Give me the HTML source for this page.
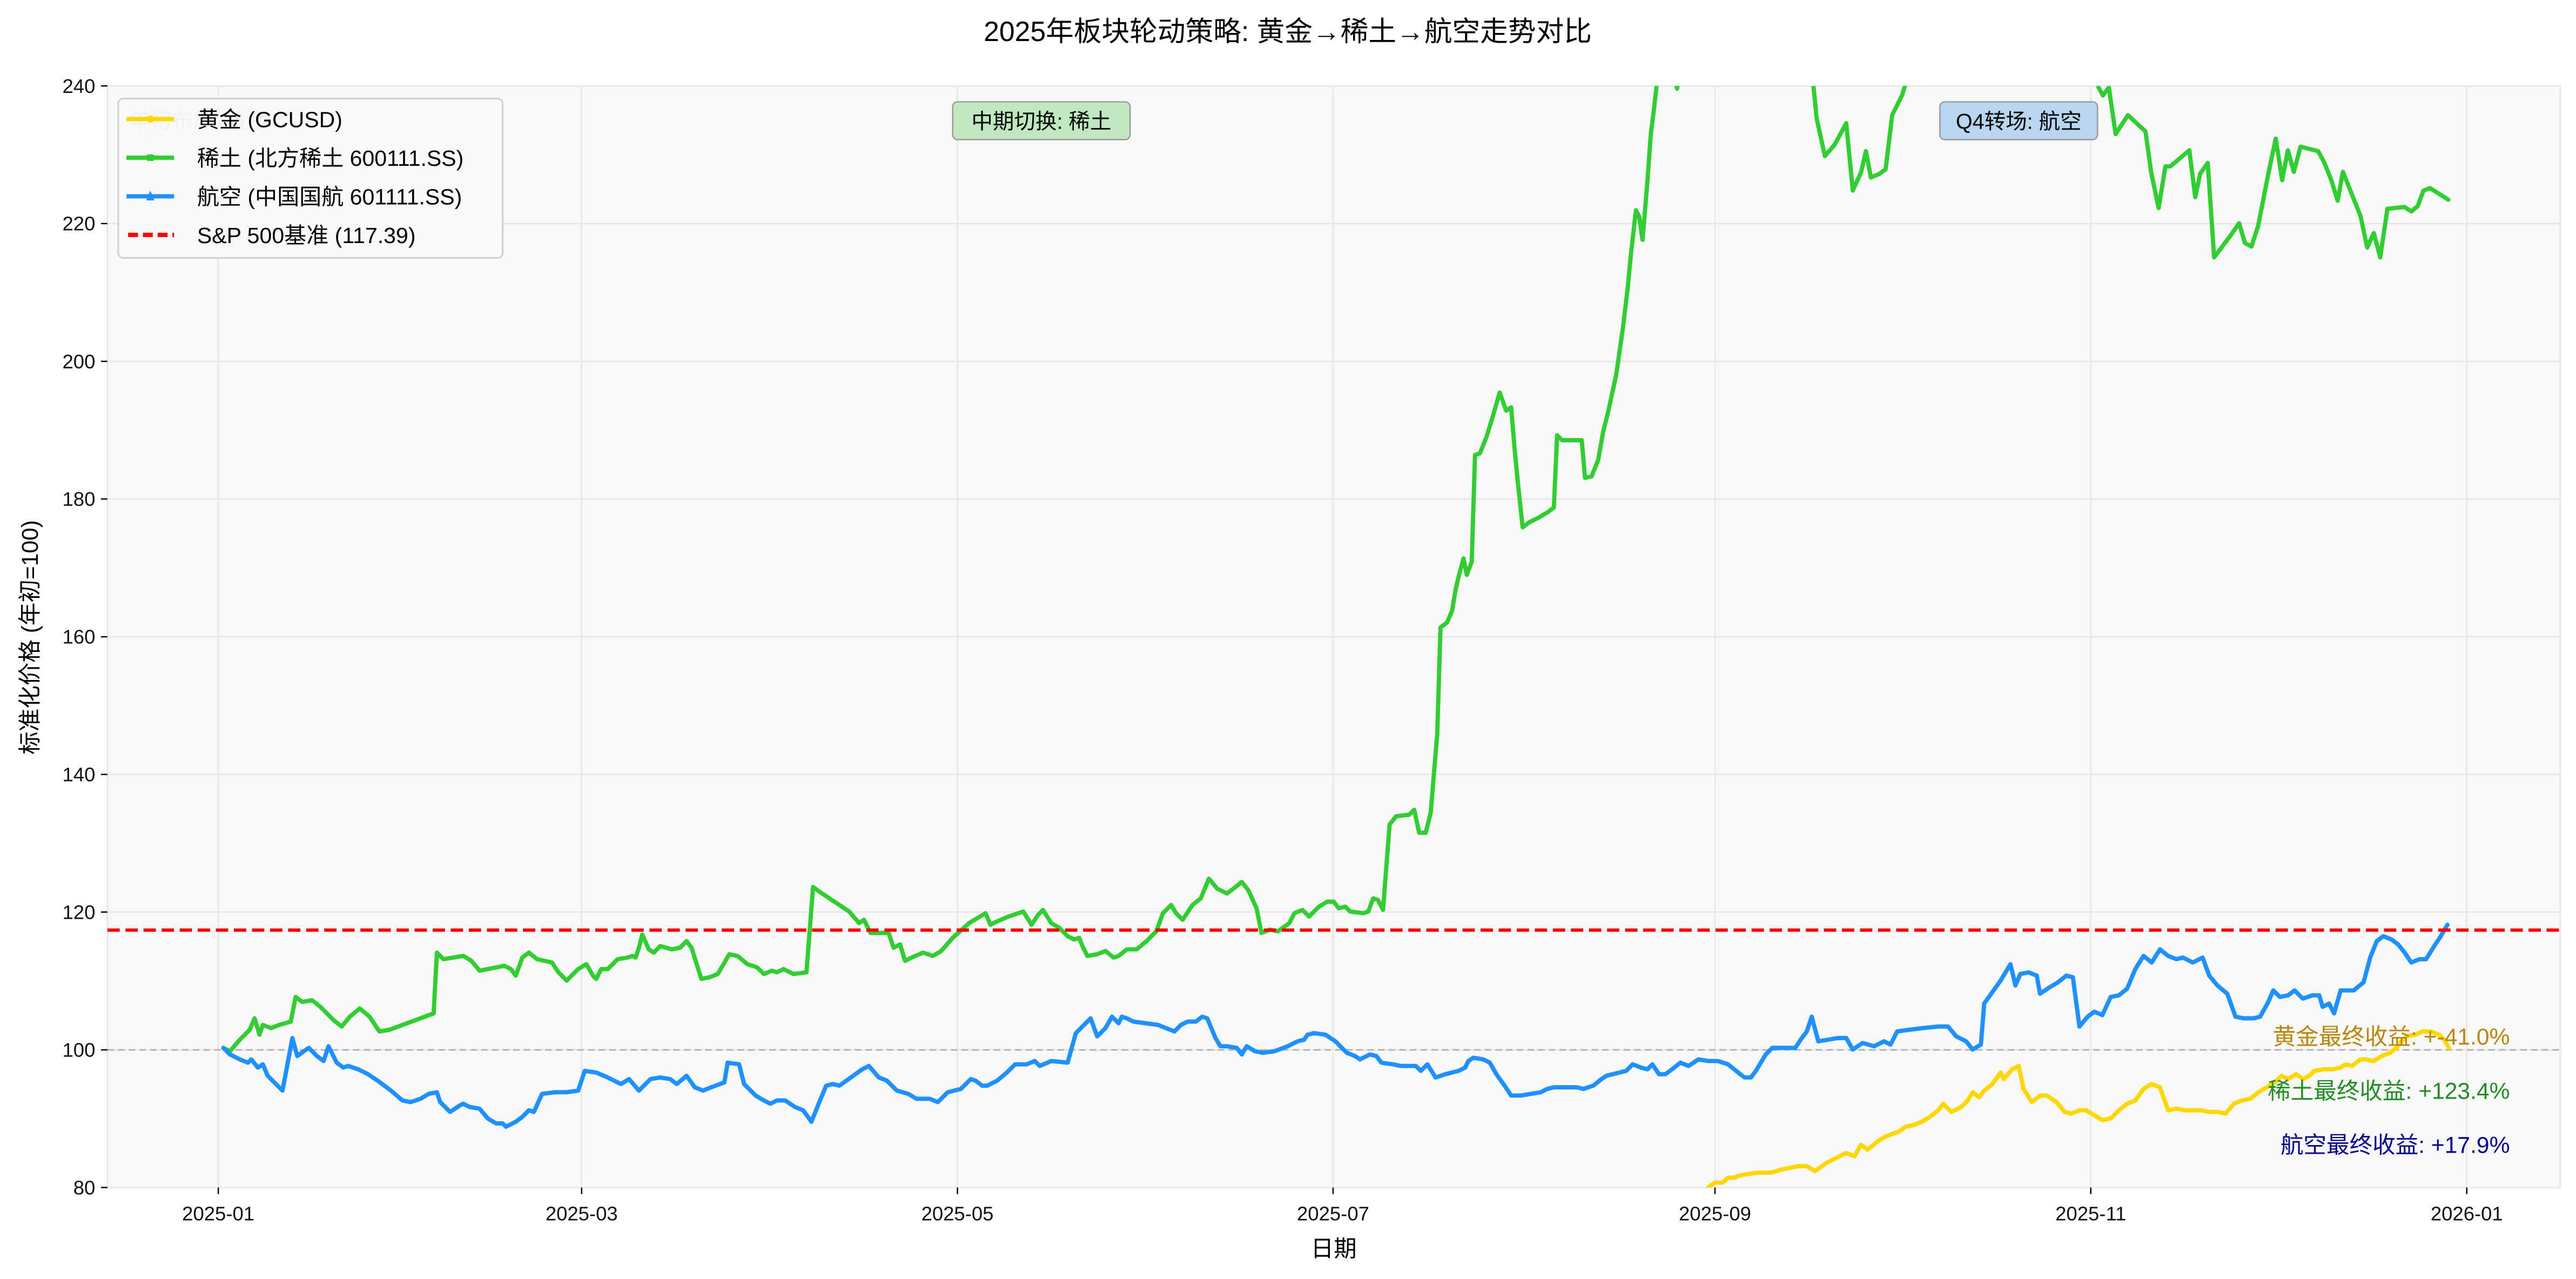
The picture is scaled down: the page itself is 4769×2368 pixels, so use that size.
<!DOCTYPE html>
<html><head><meta charset="utf-8"><style>
html,body{margin:0;padding:0;background:#fff;}
svg{display:block;font-family:"Liberation Sans","Noto Sans CJK SC",sans-serif;}
</style></head><body>
<svg width="4769" height="2368" viewBox="0 0 1568.3 778.7" xmlns="http://www.w3.org/2000/svg">
<defs><clipPath id="c"><rect x="65.4" y="52.3" width="1493.3" height="670.8"/></clipPath></defs>
<rect x="65.4" y="52.3" width="1493.3" height="670.8" fill="#f8f8f8"/>
<g stroke="#e6e6e6" stroke-width="0.8">
<line x1="132.9" y1="52.3" x2="132.9" y2="723"/><line x1="354.1" y1="52.3" x2="354.1" y2="723"/>
<line x1="582.9" y1="52.3" x2="582.9" y2="723"/><line x1="811.6" y1="52.3" x2="811.6" y2="723"/>
<line x1="1044.1" y1="52.3" x2="1044.1" y2="723"/><line x1="1272.9" y1="52.3" x2="1272.9" y2="723"/>
<line x1="1501.8" y1="52.3" x2="1501.8" y2="723"/>
<line x1="65.4" y1="52.3" x2="1558.7" y2="52.3"/><line x1="65.4" y1="136.1" x2="1558.7" y2="136.1"/>
<line x1="65.4" y1="220" x2="1558.7" y2="220"/><line x1="65.4" y1="303.8" x2="1558.7" y2="303.8"/>
<line x1="65.4" y1="387.7" x2="1558.7" y2="387.7"/><line x1="65.4" y1="471.5" x2="1558.7" y2="471.5"/>
<line x1="65.4" y1="555.3" x2="1558.7" y2="555.3"/><line x1="65.4" y1="639.2" x2="1558.7" y2="639.2"/>
</g>
<rect x="65.4" y="52.3" width="1493.3" height="670.8" fill="none" stroke="#ebebeb" stroke-width="1.2"/>
<line x1="65.4" y1="639.2" x2="1558.7" y2="639.2" stroke="#b4b4b4" stroke-width="1" stroke-dasharray="4,2.5"/>
<g clip-path="url(#c)" fill="none" stroke-linejoin="round" stroke-linecap="round" stroke-width="2.6">
<polyline stroke="#32cd32" points="136,638 140,640 146,633 152,627 155,620 158,630 160,624 165,626 170,624 177,622 180,607 184,610 190,609 195,613 203,621 208,625 213,619 219,614 225,619 231,628 237,627 264,617 266,580 270,584 282,582 287,585 292,591 307,588 311,590 314,594 318,583 322,580 327,584 336,586 340,592 345,597 352,590 357,587 361,594 363,596 366,590 370,590 376,584 382,583 385,582 387,583 389,577 391,569 395,578 398,580 402,576 409,578 414,577 418,573 421,577 427,596 432,595 437,593 444,581 449,582 455,587 461,589 465,593 470,591 473,592 477,590 483,593 491,592 495,540 499,543 508,549 517,555 523,562 526,560 530,568 541,568 544,577 548,575 551,585 555,583 562,580 568,582 573,579 580,571 590,562 600,556 603,563 607,561 614,558 623,555 628,563 632,557 635,554 640,562 645,565 650,570 654,572 657,571 659,576 662,582 668,581 673,579 678,583 681,582 686,578 692,578 698,573 704,567 708,556 713,551 716,556 720,560 726,551 731,547 736,535 741,541 747,544 751,541 756,537 760,542 765,553 768,568 773,566 778,567 785,562 788,556 793,554 797,558 803,552 808,549 812,549 815,553 819,552 822,555 830,556 833,555 836,547 839,548 842,554 846,502 850,497 858,496 861,493 864,507 868,507 871,495 875,447 877,382 881,379 884,372 886,360 888,351 891,340 893,350 896,342 898,277 901,276 905,266 909,253 913,239 917,250 920,248 922,272 924,293 927,321 931,318 937,315 942,312 946,309 948,265 951,268 956,268 963,268 965,291 969,290 973,280 976,263 979,251 984,228 988,200 991,175 993,154 996,128 998,132 1000,146 1003,110 1005,82 1007,66 1010,40 1016,30 1021,54 1026,30 1060,0 1100,30 1104,52 1106,72 1111,95 1117,88 1124,75 1128,116 1133,105 1136,92 1139,108 1144,106 1148,103 1152,70 1158,58 1162,45 1200,20 1260,25 1275,40 1277.6,53.1 1280.3,58.1 1283.9,53.1 1288,81.6 1295.5,70.1 1306.2,80 1309.7,105.2 1314.2,126.6 1318.3,101.3 1321.3,101.3 1332.9,91.5 1336.5,120 1339.5,105.7 1344.1,99.2 1348,156.7 1358.7,142.4 1363.2,135.9 1366.7,147.9 1370.7,150.1 1374.8,137.5 1381,105.7 1385.5,84.4 1389.4,109.6 1392.9,91.5 1396.5,104.6 1400.6,89.3 1411.3,92 1414.9,98.6 1419.3,109.6 1423.2,122.2 1426.4,104.6 1437.1,131.5 1441.2,150.7 1445.2,141.9 1449.1,156.7 1453.5,127.1 1463.9,126 1468,128.7 1471.9,125.5 1475.4,116.1 1479.4,114.5 1490.6,121.6"/>
<polyline stroke="#1e90ff" points="136,638 140,642 146,645 151,647 153,645 157,650 160,648 163,655 168,660 172,664 178,632 181,643 185,640 188,638 193,643 197,646 200,637 205,647 209,650 212,649 218,651 224,654 230,658 238,664 245,670 250,671 256,669 261,666 266,665 268,671 274,677 280,673 282,672 286,674 292,675 297,681 302,684 306,684 308,686 314,683 318,680 322,676 325,677 330,666 338,665 345,665 352,664 356,652 363,653 370,656 378,660 383,657 389,664 396,657 402,656 408,657 412,660 418,655 423,662 428,664 433,662 441,659 443,647 450,648 453,660 460,667 465,670 469,672 473,670 478,670 484,674 489,676 494,683 498,673 503,661 507,660 511,661 525,651 529,649 535,656 540,658 546,664 553,666 558,669 566,669 571,671 577,665 585,663 591,657 594,658 598,661 601,661 607,658 613,653 618,648 625,648 630,646 633,649 640,646 650,647 655,629 659,625 664,620 668,631 673,626 677,619 681,623 683,619 686,620 690,622 705,624 710,626 715,628 719,624 723,622 728,622 732,619 735,620 740,632 743,637 747,637 753,638 756,642 759,637 764,640 769,641 776,640 784,637 790,634 794,633 796,630 800,629 807,630 813,634 817,638 820,641 825,643 828,645 834,642 838,643 841,647 848,648 853,649 862,649 865,652 869,648 874,656 880,654 888,652 892,650 894,646 897,644 903,645 907,647 911,654 916,661 920,667 926,667 932,666 938,665 942,663 946,662 955,662 960,662 964,663 970,661 975,657 978,655 982,654 990,652 994,648 999,650 1003,651 1006,648 1010,654 1014,654 1018,651 1023,647 1028,649 1034,645 1040,646 1046,646 1052,648 1057,652 1062,656 1066,656 1069,652 1075,642 1079,638 1086,638 1093,638 1097,632 1100,628 1103,619 1107,634 1113,633 1119,632 1124,632 1128,639 1134,635 1141,637 1147,634 1151,636 1155,628 1162,627 1170,626 1180,625 1186,625 1191,631 1197,634 1201,639 1206,636 1208,611 1213,604 1218,597 1224,587 1227,600 1230,593 1235,592 1240,594 1242,605 1248,601 1253,598 1258,594 1262,595 1266,625 1271,619 1275,616 1280,618 1285,607 1290,606 1295,602 1300,590 1305,582 1310,586 1315,578 1320,582 1325,584 1329,583 1335,586 1341,583 1345,594 1350,600 1356,605 1361,619 1366,620 1372,620 1376,619 1381,610 1384,603 1388,607 1393,606 1397,603 1402,608 1408,606 1412,606 1414,613 1418,611 1421,617 1425,603 1433,603 1439,598 1443,583 1447,573 1451,570 1456,572 1460,575 1464,580 1468,586 1473,584 1477,584 1482,576 1486,570 1490,563"/>
<polyline stroke="#ffd700" points="1038,730 1040,723 1044,720 1049,720 1052,717 1056,717 1058,716 1063,715 1070,714 1078,714 1085,712 1095,710 1100,710 1105,713 1112,708 1118,705 1124,702 1129,704 1133,697 1137,700 1143,695 1148,692 1153,690 1156,689 1160,686 1165,685 1170,683 1175,680 1180,676 1183,672 1188,677 1190,676 1194,674 1198,670 1201,665 1205,668 1208,664 1213,660 1218,653 1220,657 1225,651 1229,649 1232,663 1237,671 1242,667 1246,667 1252,671 1257,677 1261,678 1266,676 1270,676 1275,679 1280,682 1285,681 1290,676 1295,672 1300,670 1305,663 1310,660 1315,662 1320,676 1325,675 1330,676 1335,676 1340,676 1345,677 1350,677 1355,678 1360,672 1365,670 1370,669 1375,665 1380,662 1385,659 1389,655 1393,657 1398,654 1402,657 1406,655 1409,652 1415,651 1420,651 1425,650 1428,648 1432,649 1437,645 1440,645 1445,646 1450,643 1455,641 1459,638 1462,634 1465,631 1470,630 1475,628 1480,628 1485,630 1488,633 1491,638"/>
</g>
<line x1="65.4" y1="566.3" x2="1558.7" y2="566.3" stroke="#ff0000" stroke-width="2" stroke-dasharray="7.5,3.5"/>
<rect x="88" y="62" width="66" height="22" rx="3" fill="#f5edd0" fill-opacity="0.6" stroke="#ddd" stroke-width="0.8"/>
<text x="121" y="78" font-size="13" fill="#bbb" text-anchor="middle">年初布局: 黄金</text>
<rect x="580" y="62" width="108" height="23" rx="3" fill="#bfe8bf" stroke="#999" stroke-width="0.8"/>
<text x="634" y="78.5" font-size="13" text-anchor="middle" fill="#000">中期切换: 稀土</text>
<rect x="1181" y="62" width="96" height="23" rx="3" fill="#b8d6f2" stroke="#999" stroke-width="0.8"/>
<text x="1229" y="78.5" font-size="13" text-anchor="middle" fill="#000">Q4转场: 航空</text>
<rect x="72" y="60" width="234" height="97" rx="3" fill="#fafafa" fill-opacity="0.85" stroke="#d0d0d0" stroke-width="1"/>
<g stroke-width="2.6">
<line x1="77" y1="72.5" x2="106" y2="72.5" stroke="#ffd700"/>
<line x1="77" y1="96" x2="106" y2="96" stroke="#32cd32"/>
<line x1="77" y1="119.5" x2="106" y2="119.5" stroke="#1e90ff"/>
<line x1="78" y1="143" x2="106" y2="143" stroke="#ff0000" stroke-dasharray="6,3"/>
</g>
<circle cx="91.5" cy="72.5" r="2.2" fill="#ffd700"/>
<rect x="89.5" y="94" width="4" height="4" fill="#32cd32"/>
<path d="M91.5,116 L94,122 L89,122 Z" fill="#1e90ff"/>
<g font-size="13.5" fill="#000">
<text x="120" y="77.5">黄金 (GCUSD)</text>
<text x="120" y="101">稀土 (北方稀土 600111.SS)</text>
<text x="120" y="124.5">航空 (中国国航 601111.SS)</text>
<text x="120" y="148">S&amp;P 500基准 (117.39)</text>
</g>
<g font-size="14" text-anchor="end">
<text x="1528" y="636" fill="#b8860b">黄金最终收益: +-41.0%</text>
<text x="1528" y="669" fill="#228b22">稀土最终收益: +123.4%</text>
<text x="1528" y="702" fill="#00008b">航空最终收益: +17.9%</text>
</g>
<g stroke="#000" stroke-width="0.8">
<line x1="61.5" y1="52.3" x2="65.4" y2="52.3"/><line x1="61.5" y1="136.1" x2="65.4" y2="136.1"/>
<line x1="61.5" y1="220" x2="65.4" y2="220"/><line x1="61.5" y1="303.8" x2="65.4" y2="303.8"/>
<line x1="61.5" y1="387.7" x2="65.4" y2="387.7"/><line x1="61.5" y1="471.5" x2="65.4" y2="471.5"/>
<line x1="61.5" y1="555.3" x2="65.4" y2="555.3"/><line x1="61.5" y1="639.2" x2="65.4" y2="639.2"/>
<line x1="61.5" y1="723" x2="65.4" y2="723"/>
<line x1="132.9" y1="723" x2="132.9" y2="727"/><line x1="354.1" y1="723" x2="354.1" y2="727"/>
<line x1="582.9" y1="723" x2="582.9" y2="727"/><line x1="811.6" y1="723" x2="811.6" y2="727"/>
<line x1="1044.1" y1="723" x2="1044.1" y2="727"/><line x1="1272.9" y1="723" x2="1272.9" y2="727"/>
<line x1="1501.8" y1="723" x2="1501.8" y2="727"/>
</g>
<g font-size="12" fill="#111" text-anchor="end">
<text x="58" y="56.5">240</text><text x="58" y="140.3">220</text><text x="58" y="224.2">200</text>
<text x="58" y="308">180</text><text x="58" y="391.9">160</text><text x="58" y="475.7">140</text>
<text x="58" y="559.5">120</text><text x="58" y="643.4">100</text><text x="58" y="727.2">80</text>
</g>
<g font-size="12" fill="#111" text-anchor="middle">
<text x="132.9" y="743">2025-01</text><text x="354.1" y="743">2025-03</text><text x="582.9" y="743">2025-05</text>
<text x="811.6" y="743">2025-07</text><text x="1044.1" y="743">2025-09</text><text x="1272.9" y="743">2025-11</text>
<text x="1501.8" y="743">2026-01</text>
</g>
<text x="812" y="765" font-size="14" text-anchor="middle" fill="#000">日期</text>
<text transform="translate(23,388) rotate(-90)" font-size="14" text-anchor="middle" fill="#000">标准化价格 (年初=100)</text>
<text x="784" y="25" font-size="17" text-anchor="middle" fill="#000">2025年板块轮动策略: 黄金→稀土→航空走势对比</text>
</svg>
</body></html>
